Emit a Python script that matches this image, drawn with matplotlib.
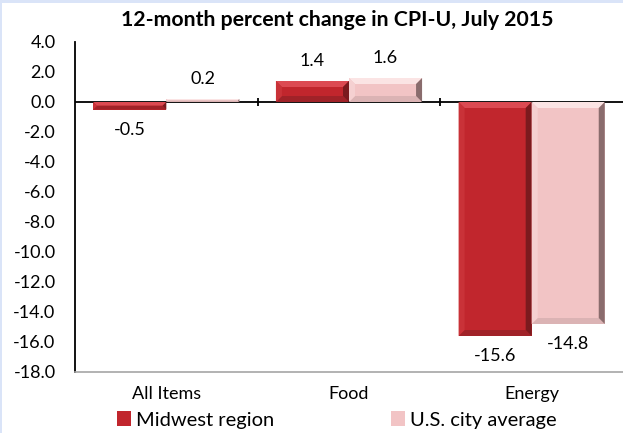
import numpy as np
import matplotlib.pyplot as plt
from matplotlib.patches import Polygon, Rectangle

categories = ['All Items', 'Food', 'Energy']
midwest = [-0.5, 1.4, -15.6]
us_avg = [0.2, 1.6, -14.8]
yticks = np.arange(-18, 5, 2)

red = dict(face='#c1262d', top='#dc4a52', left='#c93238', right='#7a1a1e', bottom='#a02228')
pink = dict(face='#f2c4c5', top='#fbe4e4', left='#f5d0d1', right='#8a6c6d', bottom='#dbb3b4')

plt.rcParams['font.family'] = ['Lato', 'DejaVu Sans']

W, H = 623, 433
fig = plt.figure(figsize=(W / 100, H / 100), dpi=100)
fig.patch.set_facecolor('white')
# light blue page border (top and left)
fig.add_artist(Rectangle((0, 1 - 3 / H), 1, 3 / H, transform=fig.transFigure, color='#dae4f8', lw=0))
fig.add_artist(Rectangle((0, 0), 2 / W, 1, transform=fig.transFigure, color='#dae4f8', lw=0))

ax = fig.add_axes([75 / W, 1 - 372 / H, (W - 75) / W, (372 - 42) / H])
x = np.arange(len(categories))
ax.set_xlim(-0.5, 2.5)
ax.set_ylim(-18, 4)

b1 = ax.bar(x - 0.2, midwest, 0.4, color=red['face'], label='Midwest region', zorder=2)
b2 = ax.bar(x + 0.2, us_avg, 0.4, color=pink['face'], label='U.S. city average', zorder=2)


def bevel(rect, c, d=6):
    (l, b), (r, t) = ax.transData.transform(
        [(rect.get_x(), rect.get_y()), (rect.get_x() + rect.get_width(), rect.get_y() + rect.get_height())])
    b, t = min(b, t), max(b, t)
    d = min(d, (t - b) / 2, (r - l) / 2)
    faces = {
        'top': [(l, t), (r, t), (r - d, t - d), (l + d, t - d)],
        'bottom': [(l, b), (r, b), (r - d, b + d), (l + d, b + d)],
        'left': [(l, b), (l, t), (l + d, t - d), (l + d, b + d)],
        'right': [(r, b), (r, t), (r - d, t - d), (r - d, b + d)],
    }
    for k, pts in faces.items():
        fig.add_artist(Polygon(pts, closed=True, transform=None, color=c[k], lw=0, zorder=3))


for rect in b1:
    bevel(rect, red)
for rect in b2:
    bevel(rect, pink)

# data labels
for bars, vals in [(b1, midwest), (b2, us_avg)]:
    for rect, v in zip(bars, vals):
        off = 14.5 if v >= 0 else -14.5
        ax.annotate(f'{v:.1f}', (rect.get_x() + rect.get_width() / 2, v),
                    xytext=(0, off), textcoords='offset points',
                    ha='center', va='center', fontsize=13)

# category axis at zero with crossing ticks
ax.axhline(0, color='black', lw=1.3, zorder=4)
ax.vlines([0.5, 1.5], -0.28, 0.28, color='black', lw=1.3, zorder=4)

ax.set_yticks(yticks)
ax.set_yticklabels([f'{v:.1f}' for v in yticks], fontsize=13)
ax.tick_params(axis='y', length=0, pad=14)
ax.set_xticks(x)
ax.set_xticklabels(categories, fontsize=13)
ax.tick_params(axis='x', length=0, pad=10)

for s in ['top', 'right']:
    ax.spines[s].set_visible(False)
ax.spines['left'].set_color('black')
ax.spines['left'].set_linewidth(1.3)
ax.spines['bottom'].set_color('#a6a6a6')
ax.spines['bottom'].set_linewidth(1.2)

fig.text(337 / W, 1 - 20 / H, '12-month percent change in CPI-U, July 2015',
         ha='center', va='center', fontsize=15.3, fontweight='bold')

fig.legend(handles=[b1, b2], loc='center', bbox_to_anchor=(337 / W, 1 - 420 / H),
           ncol=2, frameon=False, fontsize=14.5, handlelength=0.7, handleheight=0.7,
           handletextpad=0.25, columnspacing=5.8, borderpad=0)

fig.savefig('out.png', dpi=100)
